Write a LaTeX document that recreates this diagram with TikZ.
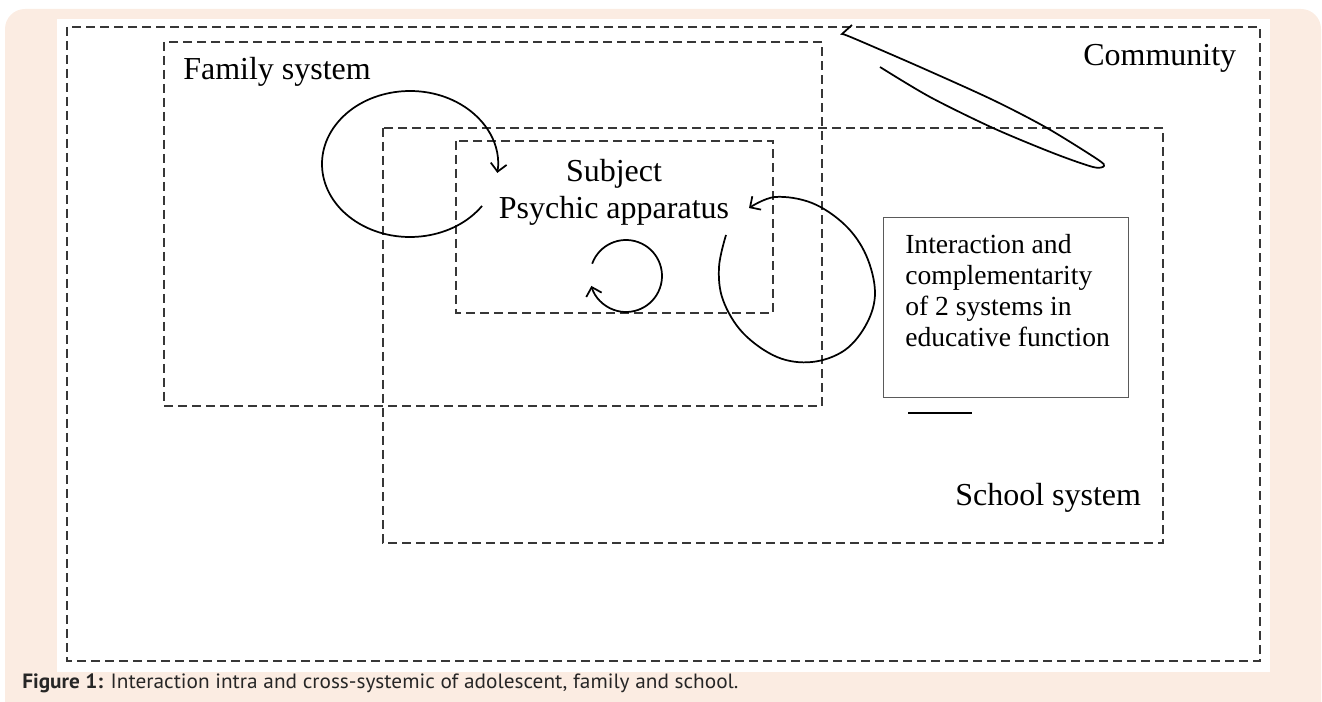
\documentclass[tikz,border=0pt]{standalone}
\usepackage{fontspec}
\setmainfont{Liberation Serif}
\newfontfamily\captionfont[FakeStretch=1.03]{PT Sans}
\usepackage{tikz}
\usetikzlibrary{arrows.meta}
\definecolor{panelbg}{RGB}{251,236,226}
\definecolor{dashgray}{RGB}{55,55,55}
\definecolor{boxgray}{RGB}{90,90,90}

\begin{document}
\begin{tikzpicture}[x=0.75pt, y=-0.75pt,
	sysbox/.style={dashgray, line width=1.8pt, dash pattern=on 6.75pt off 3.75pt},
	syslabel/.style={inner sep=0, font=\fontsize{24}{28}\selectfont},
	turnarrow/.style={black, line width=1.3pt, -{Straight Barb[length=6pt, width=12pt]}}]
	
	\useasboundingbox (0,0) rectangle (1322,702);
	\fill[panelbg, rounded corners=15pt] (5,9) rectangle (1321,740);
	\fill[white] (57,19) rectangle (1270,672);
	
	% systems
	\draw[sysbox] (67,27) rectangle (1260,661);
	\draw[sysbox] (164,42) rectangle (822,406);
	\draw[sysbox] (383,128) rectangle (1163,543);
	\draw[sysbox] (456,141) rectangle (773,313);
	
	\node[syslabel, anchor=base west] (community) at (1083,66) {Community};
	\node[syslabel, anchor=base west] (family) at (183,80) {Family system};
	\node[syslabel, anchor=base west] (school) at (955,505) {School system};
	\node[syslabel, anchor=base] (subject) at (614,182) {Subject};
	\node[syslabel, anchor=base] (psychic) at (614,219) {Psychic apparatus};
	
	% loops
	\coordinate (famloop) at (410,164);
	\coordinate (selfloop) at (626,276);
	\draw[turnarrow] ([shift={(35:88 and 73)}]famloop) arc[start angle=35, end angle=367, x radius=88, y radius=73];
	\draw[turnarrow] ([shift={(200:36)}]selfloop) arc[start angle=200, end angle=524, radius=36];
	\draw[turnarrow] plot[smooth, tension=0.6] coordinates {(726,235) (719,267) (723,300) (743,333) (777,357) (812,362) (845,350) (867,323) (875,292) (866,255) (845,225) (812,203) (775,197) (749,208)};
	\draw[black, line width=1.3pt] plot[smooth, tension=0.5] coordinates {(880,67) (930,97) (993,128) (1053,153) (1093,167) (1104,166) (1097,159) (1047,128) (993,100) (920,67) (853,38) (842,34)} -- (852,25);
	
	% interaction box
	\node[draw=boxgray, line width=1pt, minimum width=183.75pt, minimum height=135pt, anchor=north west, inner sep=0] (infobox) at (883,217) {};
	\node[anchor=north west, align=left, inner sep=0, font=\fontsize{20.7}{23.25}\selectfont] (infotext) at (905,234) {Interaction and\\complementarity\\of 2 systems in\\educative function};
	\draw[black, line width=0.9pt] (908,413) -- (972,413);
	
	\node[anchor=base west, inner sep=0, text=black!85, font=\captionfont\fontsize{15.5}{18}\selectfont] (caption) at (22,688) {\textbf{Figure 1:} Interaction intra and cross-systemic of adolescent, family and school.};
	
\end{tikzpicture}
\end{document}
